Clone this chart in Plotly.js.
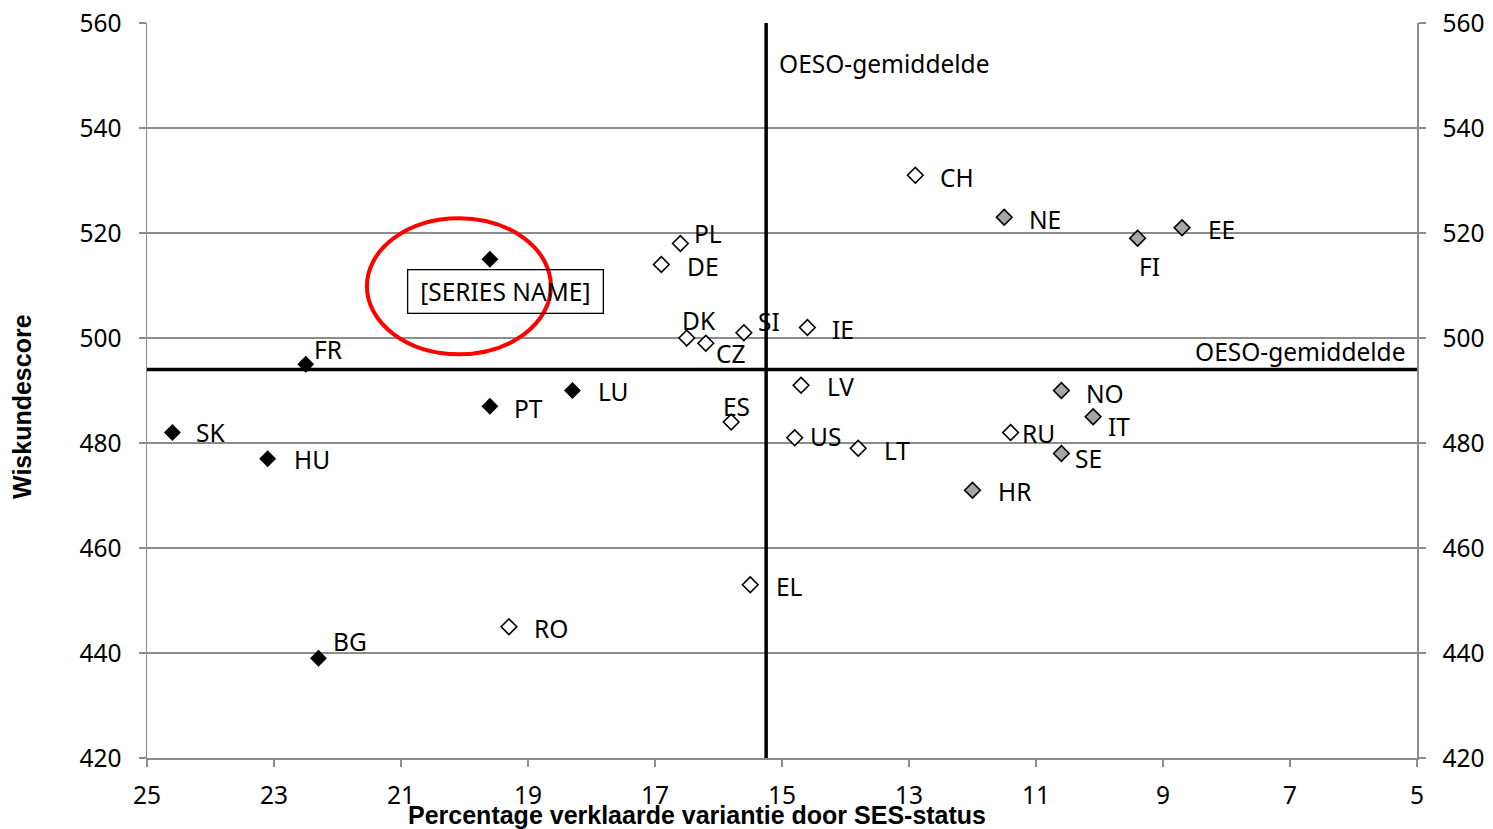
<!DOCTYPE html>
<html>
<head>
<meta charset="utf-8">
<script src="https://cdn.plot.ly/plotly-3.0.1.min.js"></script>
<style>html,body{margin:0;padding:0;background:#fff;}#chart{width:1493px;height:829px;}</style>
</head>
<body>
<div id="chart"></div>
<script>
// ---- data ----
const countries = ["SK","HU","FR","BG","[SERIES NAME]","PT","LU","RO","PL","DE","DK","CZ","SI","IE","LV","ES","US","LT","EL","CH","NE","FI","EE","NO","IT","RU","SE","HR"];
const sesVariance = [24.6,23.1,22.5,22.3,19.6,19.6,18.3,19.3,16.6,16.9,16.5,16.2,15.6,14.6,14.7,15.8,14.8,13.8,15.5,12.9,11.5,9.4,8.7,10.6,10.1,11.4,10.6,12.0];
const mathScore = [482,477,495,439,515,487,490,445,518,514,500,499,501,502,491,484,481,479,453,531,523,519,521,490,485,482,478,471];
const group = ["black","black","black","black","black","black","black","white","white","white","white","white","white","white","white","white","white","white","white","white","grey","grey","grey","grey","grey","white","grey","grey"];
const oecdVariance = 15.25;
const oecdScore = 494;
const oecdLabel = "OESO-gemiddelde";
const xRange = [25, 5];
const yRange = [420, 560];
const xTitle = "Percentage verklaarde variantie door SES-status";
const yTitle = "Wiskundescore";

// ---- styles (label offsets in pixels: [xshift, yshift, anchor]) ----
const labelOffsets = {
  "SK":[22,0,"left"],"HU":[24,-1,"left"],"FR":[6,15,"left"],"BG":[13,17,"left"],
  "[SERIES NAME]":[16,-32,"center"],"PT":[22,-2,"left"],"LU":[24,-1,"left"],"RO":[23,-2,"left"],
  "PL":[12,10,"left"],"DE":[24,-2,"left"],"DK":[12,18,"center"],"CZ":[8,-10,"left"],
  "SI":[12,11,"left"],"IE":[23,-2,"left"],"LV":[24,-1,"left"],"ES":[5,16,"center"],
  "US":[13,1,"left"],"LT":[24,-2,"left"],"EL":[24,-2,"left"],"CH":[23,-2,"left"],
  "NE":[23,-2,"left"],"FI":[12,-28,"center"],"EE":[24,-2,"left"],"NO":[23,-3,"left"],
  "IT":[13,-10,"left"],"RU":[9,-1,"left"],"SE":[12,-5,"left"],"HR":[23,-1,"left"]
};
const fills = {black:"#000000", white:"#ffffff", grey:"#a6a6a6"};
const FONT = "Noto Sans, Open Sans, sans-serif";
const LABEL_SIZE = 24.5;

const traces = [];
["black","white","grey"].forEach(g => {
  const xs=[], ys=[], names=[];
  group.forEach((gg,i)=>{ if(gg===g){ xs.push(sesVariance[i]); ys.push(mathScore[i]); names.push(countries[i]); }});
  traces.push({
    x: xs, y: ys, text: names, type: "scatter", mode: "markers",
    marker: {symbol: "diamond", size: g==="black"?13:12, color: fills[g],
             line: {color: "#000", width: g==="black"?0:1.6}},
    hoverinfo: "text", showlegend: false, cliponaxis: false
  });
});
// OECD mean lines
traces.push({x:[oecdVariance, oecdVariance], y:[yRange[0]-0.4, yRange[1]], type:"scatter", mode:"lines",
  line:{color:"#000", width:3.5}, hoverinfo:"skip", showlegend:false, cliponaxis:false});
traces.push({x:[xRange[0], xRange[1]], y:[oecdScore, oecdScore], type:"scatter", mode:"lines",
  line:{color:"#000", width:3.5}, hoverinfo:"skip", showlegend:false, yaxis:"y2"});

const annotations = countries.map((c,i)=>{
  const o = labelOffsets[c];
  const a = {x: sesVariance[i], y: mathScore[i], xref:"x", yref:"y", text: c, showarrow:false,
    xanchor: o[2], yanchor:"middle", xshift:o[0], yshift:o[1],
    font:{family:FONT, size:LABEL_SIZE, color:"#000"}};
  if (c === "[SERIES NAME]") {
    a.bordercolor = "#000"; a.borderwidth = 1.3; a.borderpad = 3; a.bgcolor = "rgba(255,255,255,0)";
    a.width = 188; a.height = 36;
  }
  return a;
});
annotations.push({x: oecdVariance, y: yRange[1], xref:"x", yref:"y", text: oecdLabel, showarrow:false,
  xanchor:"left", yanchor:"middle", xshift:11, yshift:-40, font:{family:FONT, size:LABEL_SIZE, color:"#000"}});
annotations.push({x: xRange[1], y: oecdScore, xref:"x", yref:"y", text: oecdLabel, showarrow:false,
  xanchor:"right", yanchor:"middle", xshift:-9, yshift:18, font:{family:FONT, size:LABEL_SIZE, color:"#000"}});
annotations.push({x: 0.433, y: -0.078, xref:"paper", yref:"paper", text: "<b>"+xTitle+"</b>", showarrow:false,
  xanchor:"center", yanchor:"middle", font:{family:"Liberation Sans Narrow, Arial Narrow, sans-serif", size:25, color:"#000"}});
annotations.push({x: -0.0984, y: 0.4776, xref:"paper", yref:"paper", text: "<b>"+yTitle+"</b>", showarrow:false,
  textangle:-90, xanchor:"center", yanchor:"middle", font:{family:"Liberation Sans Narrow, Arial Narrow, sans-serif", size:25, color:"#000"}});

// highlight ellipse anchored at the highlighted point
const hi = countries.indexOf("[SERIES NAME]");
const shapes = [{type:"circle", xref:"x", yref:"y", xsizemode:"pixel", ysizemode:"pixel",
  xanchor: sesVariance[hi], yanchor: mathScore[hi], x0:-123, x1:61, y0:-95, y1:41,
  line:{color:"#ff0000", width:4}, fillcolor:"rgba(0,0,0,0)"}];

const axisCommon = {showline:true, linecolor:"#8c8c8c", linewidth:1.5, ticks:"outside", ticklen:7,
  tickcolor:"#8c8c8c", tickwidth:1.5, zeroline:false, tickfont:{family:FONT, size:24.5, color:"#000"}};

const layout = {
  width:1493, height:829, paper_bgcolor:"#fff", plot_bgcolor:"#fff",
  margin:{l:147, r:76, t:23, b:71},
  showlegend:false,
  xaxis: Object.assign({}, axisCommon, {range:xRange, tick0:5, dtick:2, showgrid:false, ticklabelstandoff:8}),
  yaxis: Object.assign({}, axisCommon, {range:yRange, dtick:20, showgrid:true, gridcolor:"#8c8c8c", gridwidth:1.5, ticklabelstandoff:12}),
  yaxis2: Object.assign({}, axisCommon, {range:yRange, dtick:20, overlaying:"y", side:"right", showgrid:false, ticklabelstandoff:12}),
  annotations: annotations,
  shapes: shapes
};
Plotly.newPlot("chart", traces, layout, {staticPlot:true});
</script>
</body>
</html>
